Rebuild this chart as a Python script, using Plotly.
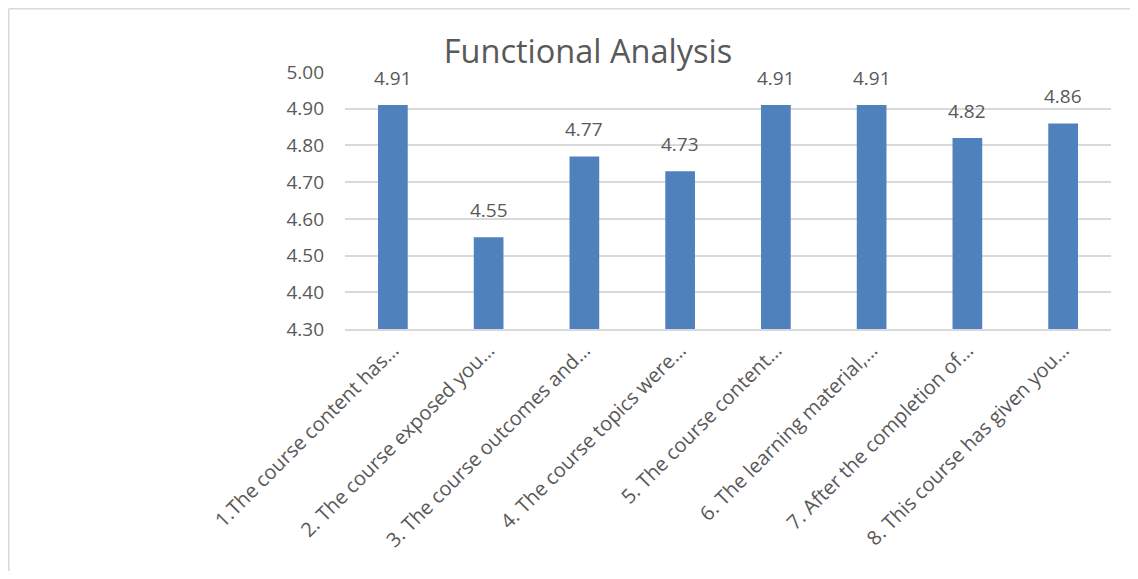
import plotly.graph_objects as go

categories = [
    "1.The course content has…",
    "2. The course exposed you…",
    "3. The course outcomes and…",
    "4. The course topics were…",
    "5. The course content…",
    "6. The learning material,…",
    "7. After the completion of…",
    "8. This course has given you…",
]
values = [4.91, 4.55, 4.77, 4.73, 4.91, 4.91, 4.82, 4.86]
value_labels = ["4.91", "4.55", "4.77", "4.73", "4.91", "4.91", "4.82", "4.86"]
y_ticks = [4.30, 4.40, 4.50, 4.60, 4.70, 4.80, 4.90, 5.00]

FONT = "Open Sans"
GRAY = "#595959"

# page body has an 8px default margin, so work in shifted coordinates
OFF = 8
W, H = 1138 - 2 * OFF, 579 - 2 * OFF
L, T = 345 - OFF, 72 - OFF
R = W - (1111 - OFF)
B = H - (329 - OFF)
pw, ph = W - L - R, H - T - B


def px_x(px):
    return (px - OFF - L) / pw


def px_y(py):
    return 1 - (py - OFF - T) / ph


fig = go.Figure()
fig.add_trace(go.Bar(
    x=categories, y=values,
    marker=dict(color="#4F81BD", line=dict(width=0)),
))

for c, v, t in zip(categories, values, value_labels):
    fig.add_annotation(x=c, y=v, text=t, showarrow=False, yanchor="bottom",
                       yshift=12, font=dict(family=FONT, size=19, color=GRAY))

# chart border (top and left visible)
fig.add_shape(type="line", xref="paper", yref="paper",
              x0=px_x(8.75), x1=px_x(1160), y0=px_y(8.75), y1=px_y(8.75),
              line=dict(color="#D9D9D9", width=1.5))
fig.add_shape(type="line", xref="paper", yref="paper",
              x0=px_x(8.75), x1=px_x(8.75), y0=px_y(8.75), y1=px_y(620),
              line=dict(color="#D9D9D9", width=1.5))

fig.update_layout(
    width=W, height=H,
    margin=dict(l=L, r=R, t=T, b=B, autoexpand=False),
    paper_bgcolor="white", plot_bgcolor="white",
    bargap=0.69,
    showlegend=False,
    title=dict(text="Functional Analysis", x=(588 - OFF) / W, xref="container",
               y=1 - (52 - OFF) / H, yref="container", xanchor="center", yanchor="middle",
               font=dict(family=FONT, size=32.5, color=GRAY)),
    font=dict(family=FONT, color=GRAY),
)
fig.update_xaxes(
    tickangle=-45, tickfont=dict(family=FONT, size=20, color=GRAY),
    showline=True, linecolor="#D9D9D9", linewidth=1.5, ticks="",
    showgrid=False,
)
fig.update_yaxes(
    range=[4.30, 5.00], tickvals=y_ticks,
    ticktext=[f"{v:.2f}" for v in y_ticks],
    tickfont=dict(family=FONT, size=19, color=GRAY),
    showgrid=True, gridcolor="#D9D9D9", gridwidth=1.5,
    zeroline=False, showline=False, ticks="", ticklabelstandoff=20,
)

fig.write_html("out.html")
